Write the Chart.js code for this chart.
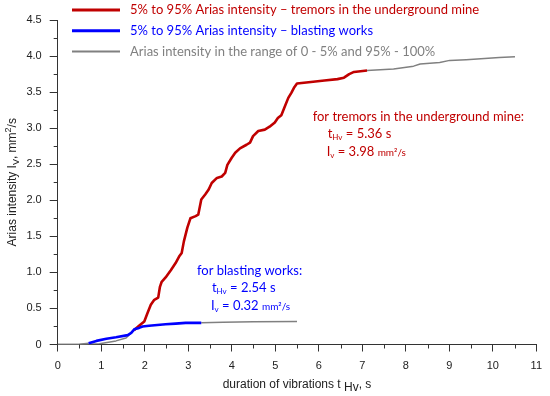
<!DOCTYPE html>
<html>
<head>
<meta charset="utf-8">
<script src="https://cdn.jsdelivr.net/npm/chart.js@4.4.1/dist/chart.umd.min.js"></script>
<style>
  body { margin: 0; background: #fff; }
  #wrap { width: 550px; height: 396px; }
</style>
</head>
<body>
<div id="wrap"><canvas id="chart"></canvas></div>
<script>
// 5% - 95% part of the tremor record
const tremorT = [1.76, 1.87, 1.99, 2.06, 2.14, 2.22, 2.31, 2.35, 2.39, 2.48, 2.60, 2.71, 2.79, 2.85, 2.90, 2.98, 3.05, 3.17, 3.23, 3.30, 3.39, 3.47, 3.54, 3.66, 3.77, 3.85, 3.90, 4.00, 4.08, 4.19, 4.34, 4.42, 4.49, 4.61, 4.76, 4.87, 4.99, 5.06, 5.14, 5.22, 5.30, 5.37, 5.43, 5.50, 5.82, 6.13, 6.43, 6.58, 6.70, 6.81, 7.11];
const tremorI = [0.20, 0.26, 0.32, 0.43, 0.55, 0.62, 0.65, 0.80, 0.87, 0.93, 1.03, 1.13, 1.22, 1.27, 1.43, 1.62, 1.75, 1.78, 1.80, 2.01, 2.08, 2.15, 2.24, 2.31, 2.33, 2.38, 2.49, 2.59, 2.66, 2.72, 2.77, 2.80, 2.89, 2.96, 2.98, 3.02, 3.08, 3.14, 3.18, 3.30, 3.42, 3.49, 3.56, 3.62, 3.64, 3.66, 3.68, 3.70, 3.75, 3.78, 3.80];
// 0 - 5% and 95% - 100% of the tremor record
const tremorPreT = [0, 0.51, 0.96, 1.34, 1.57, 1.69, 1.76];
const tremorPreI = [0, 0.00, 0.01, 0.05, 0.09, 0.16, 0.20];
const tremorPostT = [7.11, 7.72, 8.18, 8.33, 8.78, 9.01, 9.39, 10.15, 10.51];
const tremorPostI = [3.80, 3.82, 3.86, 3.89, 3.91, 3.94, 3.95, 3.98, 3.99];

// blasting works
const blastT = [0.71, 0.89, 1.12, 1.34, 1.61, 1.69, 1.76, 1.87, 1.95, 2.10, 2.48, 2.71, 2.94, 3.30];
const blastI = [0.016, 0.05, 0.08, 0.10, 0.13, 0.16, 0.21, 0.23, 0.25, 0.26, 0.28, 0.29, 0.30, 0.30];
const blastPreT = [0, 0.5, 0.71];
const blastPreI = [0, 0.005, 0.016];
const blastPostT = [3.30, 3.8, 4.5, 5.5];
const blastPostI = [0.30, 0.31, 0.315, 0.32];

const xTicksMinor = [0.5, 1.5, 2.5, 3.5, 4.5, 5.5, 6.5, 7.5, 8.5, 9.5, 10.5];
const yTicksMinor = [0.25, 0.75, 1.25, 1.75, 2.25, 2.75, 3.25, 3.75, 4.25];

const legendItems = [
  { text: "5% to 95% Arias intensity \u2013 tremors in the underground mine", color: "#c00000", width: 3 },
  { text: "5% to 95% Arias intensity \u2013 blasting works", color: "#0000ff", width: 3 },
  { text: "Arias intensity in the range of 0 - 5% and 95% - 100%", color: "#808080", width: 2 }
];

const RED = "#c00000";
const BLUE = "#0000ff";
const GRAY = "#808080";
const LABEL_FONT = "Lato, 'Open Sans', sans-serif";
const AXIS_FONT = "'Liberation Sans', Arial, sans-serif";

const pts = (ts, vs) => ts.map((t, i) => ({ x: t, y: vs[i] }));

const line = (data, color, width) => ({
  data: data,
  borderColor: color,
  borderWidth: width,
  pointRadius: 0,
  tension: 0,
  borderJoinStyle: "round",
  showLine: true,
  fill: false
});

// draws text made of parts with their own font and vertical offset
function drawRich(ctx, x, y, parts) {
  let cx = x;
  parts.forEach((p) => {
    ctx.font = p.font;
    ctx.fillText(p.text, cx, y + (p.dy || 0));
    cx += ctx.measureText(p.text).width;
  });
  return cx - x;
}

function measureRich(ctx, parts) {
  let w = 0;
  parts.forEach((p) => {
    ctx.font = p.font;
    w += ctx.measureText(p.text).width;
  });
  return w;
}

const extras = {
  id: "extras",
  afterDraw(chart) {
    const ctx = chart.ctx;
    const xs = chart.scales.x;
    const ys = chart.scales.y;
    ctx.save();

    // minor ticks
    ctx.strokeStyle = "#333";
    ctx.lineWidth = 1;
    ctx.beginPath();
    xTicksMinor.forEach((v) => {
      const px = Math.round(xs.getPixelForValue(v)) + 0.5;
      ctx.moveTo(px, ys.bottom);
      ctx.lineTo(px, ys.bottom + 4);
    });
    yTicksMinor.forEach((v) => {
      const py = Math.round(ys.getPixelForValue(v)) + 0.5;
      ctx.moveTo(xs.left, py);
      ctx.lineTo(xs.left - 4, py);
    });
    ctx.stroke();

    // legend
    ctx.textBaseline = "middle";
    legendItems.forEach((it, i) => {
      const y = 10 + i * 20.8;
      ctx.strokeStyle = it.color;
      ctx.lineWidth = it.width;
      ctx.beginPath();
      ctx.moveTo(72, y);
      ctx.lineTo(120, y);
      ctx.stroke();
      ctx.fillStyle = it.color;
      ctx.font = "13px " + LABEL_FONT;
      ctx.fillText(it.text, 130, y);
    });

    // annotations
    ctx.textBaseline = "alphabetic";
    const big = "13px " + LABEL_FONT;
    const small = "8px " + LABEL_FONT;
    const unit = "10px " + LABEL_FONT;

    ctx.fillStyle = RED;
    let ax = xs.getPixelForValue(5.86);
    let ay = ys.getPixelForValue(3.1);
    drawRich(ctx, ax, ay, [{ text: "for tremors in the underground mine:", font: big }]);
    drawRich(ctx, ax + 15, ay + 17, [
      { text: "t", font: big }, { text: "Hv", font: small, dy: 2 }, { text: " = 5.36 s", font: big }
    ]);
    drawRich(ctx, ax + 14, ay + 35, [
      { text: "I", font: big }, { text: "v", font: small, dy: 2 }, { text: " = 3.98 ", font: big }, { text: "mm\u00b2/s", font: unit }
    ]);

    ctx.fillStyle = BLUE;
    ax = xs.getPixelForValue(3.2);
    ay = ys.getPixelForValue(0.97);
    drawRich(ctx, ax, ay, [{ text: "for blasting works:", font: big }]);
    drawRich(ctx, ax + 15, ay + 17, [
      { text: "t", font: big }, { text: "Hv", font: small, dy: 2 }, { text: " = 2.54 s", font: big }
    ]);
    drawRich(ctx, ax + 14, ay + 35, [
      { text: "I", font: big }, { text: "v", font: small, dy: 2 }, { text: " = 0.32 ", font: big }, { text: "mm\u00b2/s", font: unit }
    ]);

    // axis titles
    ctx.fillStyle = "#222";
    const f12 = "12px " + AXIS_FONT;
    const f9 = "9px " + AXIS_FONT;
    const xt = [
      { text: "duration of vibrations t ", font: f12 },
      { text: "Hv", font: f12, dy: 3 },
      { text: ", s", font: f12 }
    ];
    const xw = measureRich(ctx, xt);
    drawRich(ctx, (xs.left + xs.right) / 2 - xw / 2, 388, xt);

    const yt = [
      { text: "Arias intensity I", font: f12 },
      { text: "V", font: f9, dy: 3 },
      { text: ", mm", font: f12 },
      { text: "2", font: f9, dy: -5 },
      { text: "/s", font: f12 }
    ];
    const yw = measureRich(ctx, yt);
    ctx.translate(16, (ys.top + ys.bottom) / 2);
    ctx.rotate(-Math.PI / 2);
    drawRich(ctx, -yw / 2, 0, yt);

    ctx.restore();
  }
};

new Chart(document.getElementById("chart"), {
  type: "scatter",
  data: {
    datasets: [
      line(pts(blastT, blastI), BLUE, 2.6),
      line(pts(tremorT, tremorI), RED, 2.6),
      line(pts(tremorPreT, tremorPreI), GRAY, 1.5),
      line(pts(tremorPostT, tremorPostI), GRAY, 1.5),
      line(pts(blastPreT, blastPreI), GRAY, 1.5),
      line(pts(blastPostT, blastPostI), GRAY, 1.5)
    ]
  },
  options: {
    responsive: true,
    maintainAspectRatio: false,
    animation: false,
    layout: { padding: { top: 20, right: 10, left: 0, bottom: 0 } },
    plugins: {
      legend: { display: false },
      tooltip: { enabled: false }
    },
    scales: {
      x: {
        type: "linear",
        min: 0,
        max: 11,
        afterFit: (s) => { s.height = 51.5; },
        ticks: {
          stepSize: 1,
          padding: 8,
          color: "#222",
          font: { family: AXIS_FONT, size: 11 },
          maxRotation: 0
        },
        grid: { drawOnChartArea: false, tickLength: 7, color: "#333" },
        border: { color: "#333", width: 1 }
      },
      y: {
        type: "linear",
        min: 0,
        max: 4.5,
        afterFit: (s) => { s.width = 57.7; },
        ticks: {
          stepSize: 0.5,
          padding: 8,
          color: "#222",
          font: { family: AXIS_FONT, size: 11 }
        },
        grid: { drawOnChartArea: false, tickLength: 8, color: "#333" },
        border: { color: "#333", width: 1 }
      }
    }
  },
  plugins: [extras]
});
</script>
</body>
</html>
